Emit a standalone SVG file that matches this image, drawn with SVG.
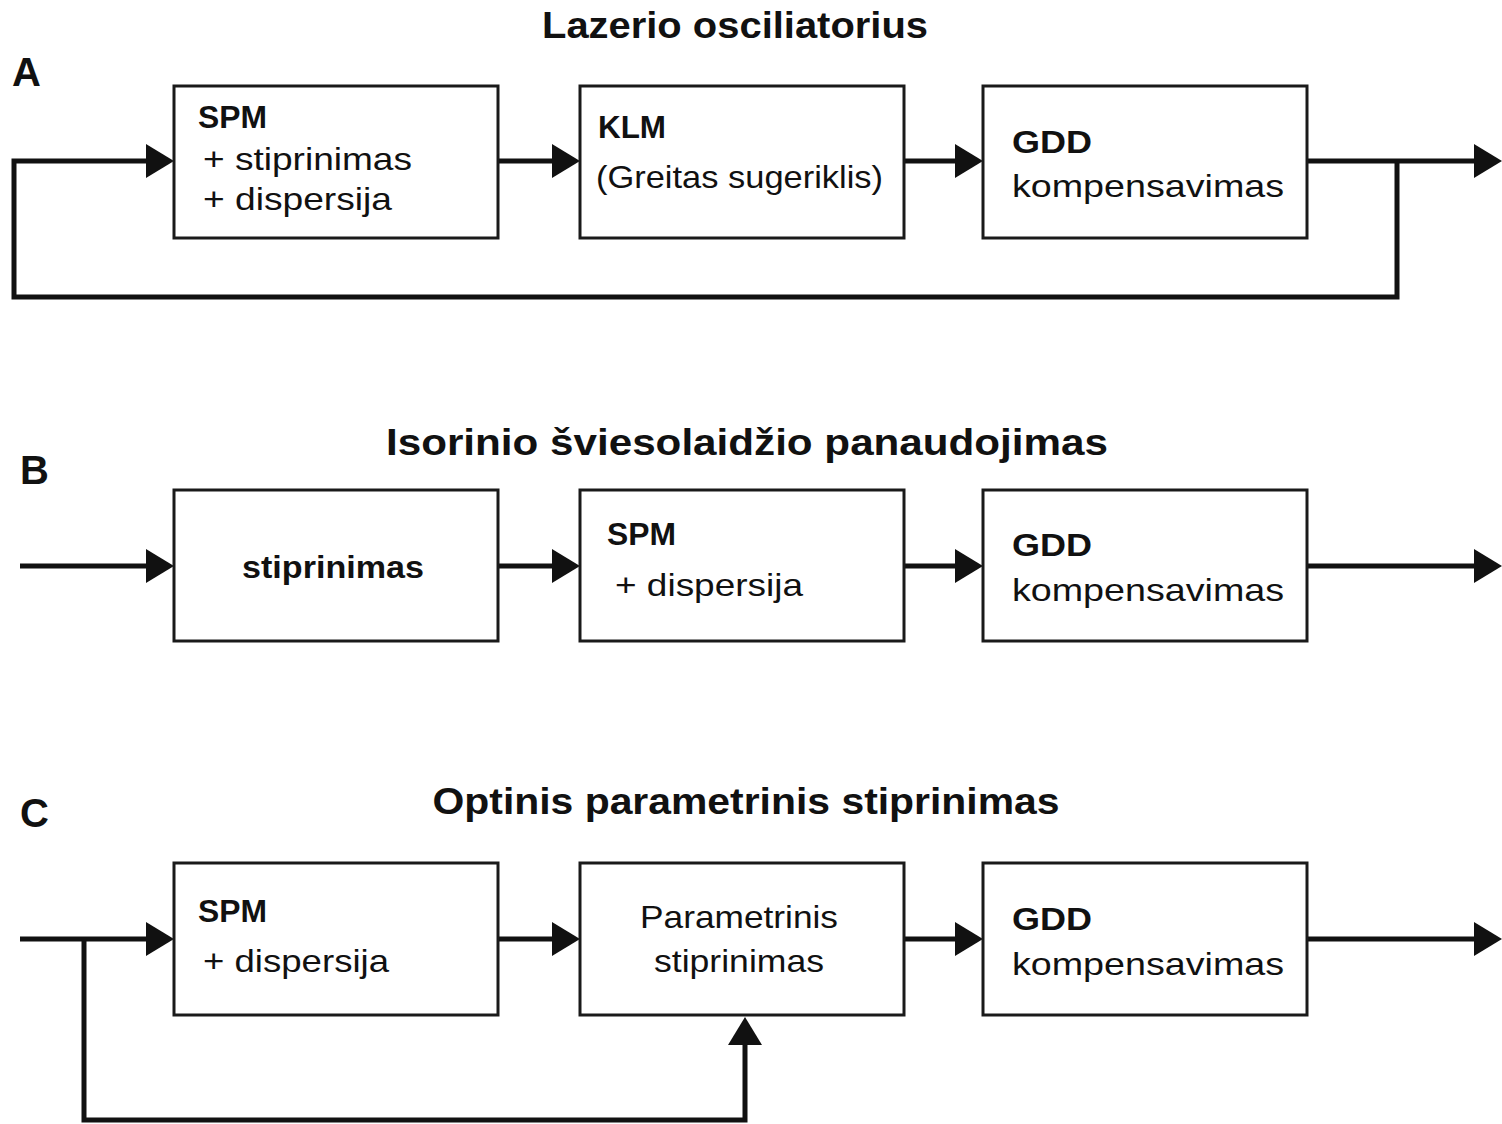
<svg xmlns="http://www.w3.org/2000/svg" width="1502" height="1124" viewBox="0 0 1502 1124">
<style>
.box{fill:#fff;stroke:#1a1a1a;stroke-width:3}
.ln{fill:none;stroke:#111;stroke-width:5;stroke-linejoin:miter}
.t{font-family:"Liberation Sans",Arial,sans-serif;fill:#111;font-size:32px}
.b{font-family:"Liberation Sans",Arial,sans-serif;fill:#111;font-weight:bold;font-size:32px}
.h{font-family:"Liberation Sans",Arial,sans-serif;fill:#111;font-weight:bold;font-size:36px}
.lbl{font-family:"Liberation Sans",Arial,sans-serif;fill:#111;font-weight:bold;font-size:40px}
</style>
<defs>
<marker id="ah" viewBox="0 0 28 34" refX="0" refY="17" markerWidth="28" markerHeight="34" markerUnits="userSpaceOnUse" orient="auto">
<path d="M0,0 L28,17 L0,34 Z" fill="#111"/>
</marker>
</defs>
<rect width="1502" height="1124" fill="#fff"/>

<text class="lbl" x="12" y="86">A</text>
<text class="lbl" x="20" y="484">B</text>
<text class="lbl" x="20" y="827">C</text>
<text class="h" x="735" y="38" text-anchor="middle" textLength="386" lengthAdjust="spacingAndGlyphs">Lazerio osciliatorius</text>
<text class="h" x="747" y="455" text-anchor="middle" textLength="722" lengthAdjust="spacingAndGlyphs">Isorinio šviesolaidžio panaudojimas</text>
<text class="h" x="746" y="814" text-anchor="middle" textLength="627" lengthAdjust="spacingAndGlyphs">Optinis parametrinis stiprinimas</text>

<g id="connectors">
<path class="ln" d="M1397,161 V297 H14 V161 H146" marker-end="url(#ah)"/>
<path class="ln" d="M498,161 H552" marker-end="url(#ah)"/>
<path class="ln" d="M904,161 H955" marker-end="url(#ah)"/>
<path class="ln" d="M1307,161 H1474" marker-end="url(#ah)"/>

<path class="ln" d="M20,566 H146" marker-end="url(#ah)"/>
<path class="ln" d="M498,566 H552" marker-end="url(#ah)"/>
<path class="ln" d="M904,566 H955" marker-end="url(#ah)"/>
<path class="ln" d="M1307,566 H1474" marker-end="url(#ah)"/>

<path class="ln" d="M20,939 H146" marker-end="url(#ah)"/>
<path class="ln" d="M84,939 V1120 H745 V1045" marker-end="url(#ah)"/>
<path class="ln" d="M498,939 H552" marker-end="url(#ah)"/>
<path class="ln" d="M904,939 H955" marker-end="url(#ah)"/>
<path class="ln" d="M1307,939 H1474" marker-end="url(#ah)"/>
</g>

<g id="a-spm">
<rect class="box" x="174" y="86" width="324" height="152"/>
<text class="b" x="198" y="128" textLength="69" lengthAdjust="spacingAndGlyphs">SPM</text>
<text class="t" x="203" y="170" textLength="209" lengthAdjust="spacingAndGlyphs">+ stiprinimas</text>
<text class="t" x="203" y="210" textLength="189" lengthAdjust="spacingAndGlyphs">+ dispersija</text>
</g>
<g id="a-klm">
<rect class="box" x="580" y="86" width="324" height="152"/>
<text class="b" x="598" y="138" textLength="68" lengthAdjust="spacingAndGlyphs">KLM</text>
<text class="t" x="596" y="188" textLength="287" lengthAdjust="spacingAndGlyphs">(Greitas sugeriklis)</text>
</g>
<g id="a-gdd">
<rect class="box" x="983" y="86" width="324" height="152"/>
<text class="b" x="1012" y="153" textLength="80" lengthAdjust="spacingAndGlyphs">GDD</text>
<text class="t" x="1012" y="197" textLength="272" lengthAdjust="spacingAndGlyphs">kompensavimas</text>
</g>

<g id="b-stip">
<rect class="box" x="174" y="490" width="324" height="151"/>
<text class="b" x="333" y="578" text-anchor="middle" textLength="182" lengthAdjust="spacingAndGlyphs">stiprinimas</text>
</g>
<g id="b-spm">
<rect class="box" x="580" y="490" width="324" height="151"/>
<text class="b" x="607" y="545" textLength="69" lengthAdjust="spacingAndGlyphs">SPM</text>
<text class="t" x="615" y="596" textLength="188" lengthAdjust="spacingAndGlyphs">+ dispersija</text>
</g>
<g id="b-gdd">
<rect class="box" x="983" y="490" width="324" height="151"/>
<text class="b" x="1012" y="556" textLength="80" lengthAdjust="spacingAndGlyphs">GDD</text>
<text class="t" x="1012" y="601" textLength="272" lengthAdjust="spacingAndGlyphs">kompensavimas</text>
</g>

<g id="c-spm">
<rect class="box" x="174" y="863" width="324" height="152"/>
<text class="b" x="198" y="922" textLength="69" lengthAdjust="spacingAndGlyphs">SPM</text>
<text class="t" x="203" y="972" textLength="186" lengthAdjust="spacingAndGlyphs">+ dispersija</text>
</g>
<g id="c-par">
<rect class="box" x="580" y="863" width="324" height="152"/>
<text class="t" x="739" y="928" text-anchor="middle" textLength="198" lengthAdjust="spacingAndGlyphs">Parametrinis</text>
<text class="t" x="739" y="972" text-anchor="middle" textLength="170" lengthAdjust="spacingAndGlyphs">stiprinimas</text>
</g>
<g id="c-gdd">
<rect class="box" x="983" y="863" width="324" height="152"/>
<text class="b" x="1012" y="930" textLength="80" lengthAdjust="spacingAndGlyphs">GDD</text>
<text class="t" x="1012" y="975" textLength="272" lengthAdjust="spacingAndGlyphs">kompensavimas</text>
</g>
</svg>
